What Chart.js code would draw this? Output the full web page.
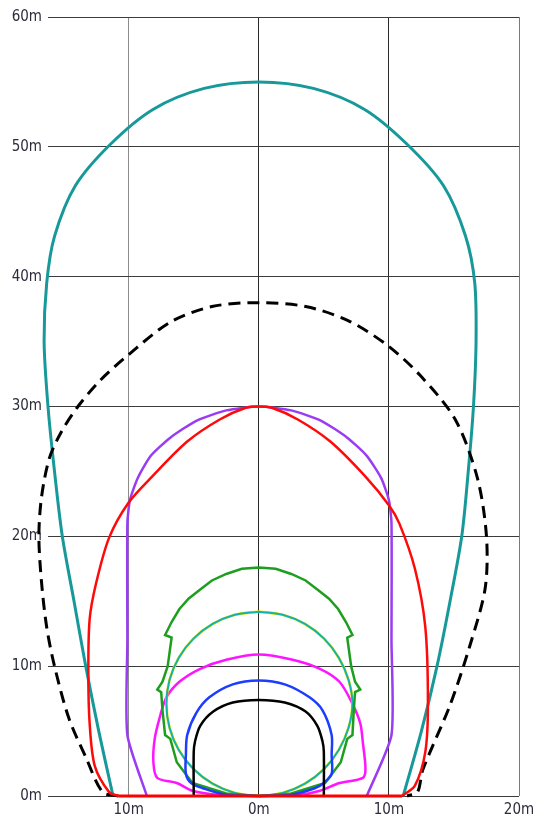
<!DOCTYPE html>
<html>
<head>
<meta charset="utf-8">
<script src="https://cdn.jsdelivr.net/npm/chart.js@4.4.1/dist/chart.umd.min.js"></script>
<style>
  html, body { margin: 0; padding: 0; background: #fff; }
  #wrap { width: 550px; height: 818px; position: relative; }
</style>
</head>
<body>
<div id="wrap"><canvas id="chart"></canvas></div>
<script>
// tick positions (metres)
const xTicks = [-10, 0, 10, 20];
const yTicks = [0, 10, 20, 30, 40, 50, 60];

// outer teal envelope
const tealX = [-11.2, -12.3, -13.3, -14.2, -15.1, -15.7, -16.2, -16.5, -16.3, -15.7, -14.1, -11.4, -8.1, -4.2, 0,
  4.2, 8.1, 11.4, 14.2, 15.9, 16.6, 16.7, 16.5, 16.1, 15.6, 14.7, 13.7, 12.5, 11.1];
const tealY = [0, 5, 10, 15, 20, 25, 30, 35, 39.5, 43.1, 47, 50.2, 52.9, 54.5, 55,
  54.5, 52.9, 50.2, 47, 43.1, 39.5, 35, 30, 25, 20, 15, 10, 5, 0];

// black dashed
const dashX = [-10.8, -12.0, -13.3, -14.6, -15.7, -16.3, -16.7, -16.9, -16.7, -16.1, -15.2, -13.9, -12.2, -10.0, -6.8, -3.6, 0,
  3.6, 6.9, 9.9, 12.4, 15.1, 16.8, 17.5, 17.4, 16.2, 14.7, 12.6, 12.2, 11.4];
const dashY = [0, 0.3, 3, 6, 10, 13, 16.5, 20, 23, 26, 28, 30, 32, 34, 36.5, 37.7, 38,
  37.7, 36.6, 34.7, 32.4, 29, 24.5, 20, 16, 11.5, 7, 2, 0.3, 0];

// red
const redX = [-10.8, -11.5, -12.6, -13.0, -13.1, -13.0, -12.5, -11.5, -10.0, -8.2, -5.5, -3.0, -1.0, 0,
  1.0, 3.0, 5.5, 8.2, 10.0, 10.8, 12.0, 12.8, 13.0, 12.8, 12.0, 11.0];
const redY = [0, 0.3, 2.3, 5.6, 9.5, 13.6, 16.4, 19.9, 22.6, 24.6, 27.3, 29.0, 29.9, 30,
  29.9, 29.0, 27.3, 24.6, 22.4, 21.0, 17.5, 13.0, 7.1, 3.4, 0.8, 0];
const redBaseX = [-10.8, 11.0];
const redBaseY = [0, 0];

// purple
const purpleX = [-8.6, -10.1, -10.1, -10.1, -9.9, -9.3, -8.3, -6.8, -4.8, -2.5, 0,
  2.5, 4.8, 6.8, 8.3, 9.4, 10.0, 10.2, 10.2, 10.2, 8.3];
const purpleY = [0, 4.7, 12.0, 21.0, 22.8, 24.5, 26.2, 27.6, 28.9, 29.7, 30,
  29.7, 28.9, 27.6, 26.2, 24.5, 22.8, 21.0, 12.0, 4.7, 0];

// green (with steps)
const greenX = [0, -2.5, -5.1, -6.3, -6.8, -7.2, -7.4, -7.5, -7.8, -7.4, -7.0, -6.7, -7.2, -6.7, -6.1, -5.4, -4.5, -3.6, -2.5, -1.3, 0,
  1.3, 2.5, 3.6, 4.5, 5.4, 6.1, 6.7, 7.2, 6.8, 7.1, 7.4, 7.8, 7.4, 7.3, 7.2, 6.8, 6.3, 5.1, 2.5, 0];
const greenY = [0, 0.2, 1.0, 2.6, 4.4, 4.7, 6.6, 8.0, 8.2, 8.8, 10.0, 12.2, 12.4, 13.4, 14.4, 15.2, 15.9, 16.6, 17.1, 17.5, 17.6,
  17.5, 17.1, 16.6, 15.9, 15.2, 14.4, 13.4, 12.4, 12.2, 10.0, 8.8, 8.2, 8.0, 6.6, 4.7, 4.4, 2.6, 1.0, 0.2, 0];

// circle (cyan over yellow)
const circleX = [0, -1.84, -3.55, -5.02, -6.15, -6.86, -7.1, -6.86, -6.15, -5.02, -3.55, -1.84, 0,
  1.84, 3.55, 5.02, 6.15, 6.9, 7.2, 6.9, 6.15, 5.02, 3.55, 1.84, 0];
const circleY = [14.2, 13.96, 13.25, 12.12, 10.65, 8.94, 7.1, 5.26, 3.55, 2.08, 0.95, 0.24, 0,
  0.24, 0.95, 2.08, 3.55, 5.26, 7.1, 8.94, 10.65, 12.12, 13.25, 13.96, 14.2];

// magenta
const magentaX = [0, -3.2, -5.1, -6.3, -7.8, -8.1, -8.0, -7.6, -7.1, -6.1, -4.5, -2.5, 0,
  2.6, 4.7, 6.2, 7.2, 7.8, 8.0, 8.2, 8.0, 6.2, 4.7, 3.2, 0];
const magentaY = [0, 0.1, 0.4, 1.0, 1.4, 2.6, 4.4, 6.1, 7.6, 8.8, 9.8, 10.5, 10.9,
  10.5, 9.8, 8.8, 7.1, 5.6, 4.1, 2.1, 1.4, 1.0, 0.4, 0.1, 0];

// blue
const blueX = [0, -2.5, -4.3, -5.2, -5.6, -5.6, -5.5, -4.8, -3.8, -2.0, 0, 2.0, 3.9, 4.9, 5.6, 5.6, 5.6, 5.0, 4.3, 2.5, 0];
const blueY = [0, 0.1, 0.6, 1.0, 1.7, 3.2, 4.7, 6.4, 7.6, 8.6, 8.9, 8.6, 7.6, 6.6, 4.7, 3.2, 1.7, 1.0, 0.6, 0.1, 0];

// inner black arch
const archX = [-5.0, -5.0, -4.9, -4.5, -3.5, -2.0, 0, 2.0, 3.6, 4.5, 4.9, 5.0, 5.0];
const archY = [0, 3.4, 4.2, 5.4, 6.5, 7.2, 7.4, 7.2, 6.5, 5.4, 4.2, 3.4, 0];

function pts(xs, ys) {
  return xs.map((x, i) => ({ x: x, y: ys[i] }));
}

function line(xs, ys, color, width, tension, extra) {
  return Object.assign({
    data: pts(xs, ys),
    showLine: true,
    borderColor: color,
    borderWidth: width,
    pointRadius: 0,
    fill: false,
    tension: tension,
    clip: false
  }, extra || {});
}

// first dataset is drawn on top
const datasets = [
  line(redBaseX, redBaseY, '#ff0000', 3, 0),
  line(redX, redY, '#ff0a0a', 2.5, 0.3),
  line(archX, archY, '#000000', 2.5, 0.3),
  line(blueX, blueY, '#1c3cff', 2.5, 0.3),
  line(greenX, greenY, '#1e9e1e', 2.5, 0),
  line(circleX, circleY, '#16b0b0', 2, 0.4),
  line(circleX, circleY, '#f2f000', 2.8, 0.4),
  line(magentaX, magentaY, '#ff14ff', 2.5, 0.3),
  line(purpleX, purpleY, '#9a3cf2', 2.5, 0.2),
  line(dashX, dashY, '#000000', 3, 0.3, { borderDash: [12, 7] }),
  line(tealX, tealY, '#17999a', 3, 0.3)
];

const tickFont = { family: '"Liberation Sans Narrow", "DejaVu Sans Condensed", sans-serif', size: 15 };

new Chart(document.getElementById('chart'), {
  type: 'scatter',
  data: { datasets: datasets },
  options: {
    responsive: true,
    maintainAspectRatio: false,
    animation: false,
    layout: { padding: { top: 17, right: 31, left: 0, bottom: 0 } },
    plugins: { legend: { display: false }, tooltip: { enabled: false } },
    scales: {
      x: {
        type: 'linear',
        min: -16.2,
        max: 20,
        afterBuildTicks: (scale) => { scale.ticks = xTicks.map(v => ({ value: v })); },
        afterFit: (scale) => { scale.height = 22; },
        border: { display: false },
        grid: {
          drawTicks: false,
          lineWidth: 1,
          color: (ctx) => {
            const v = ctx.tick && ctx.tick.value;
            if (v === -10) return '#8c8c8c';
            if (v === 20) return '#7a7a7a';
            return '#2a2a2a';
          }
        },
        ticks: {
          padding: 5,
          color: '#2c2c3c',
          font: tickFont,
          maxRotation: 0,
          callback: (v) => Math.abs(v) + 'm'
        }
      },
      y: {
        type: 'linear',
        min: 0,
        max: 60,
        afterBuildTicks: (scale) => { scale.ticks = yTicks.map(v => ({ value: v })); },
        afterFit: (scale) => { scale.width = 48; },
        border: { display: false },
        grid: { drawTicks: false, lineWidth: 1, color: '#3c3c3c' },
        ticks: {
          padding: 6,
          color: '#2c2c3c',
          font: tickFont,
          callback: (v) => v + 'm'
        }
      }
    }
  }
});
</script>
</body>
</html>
